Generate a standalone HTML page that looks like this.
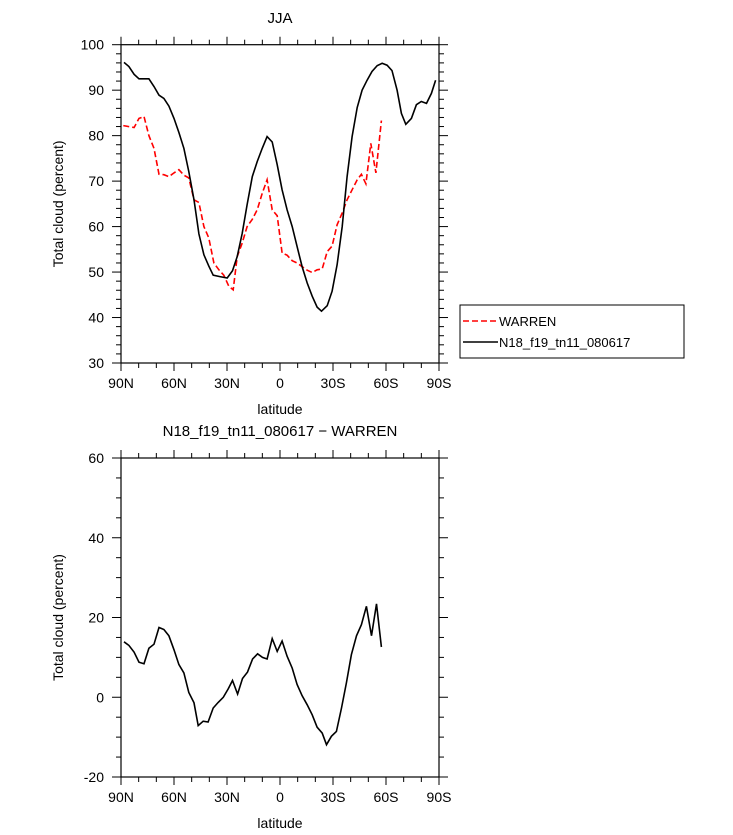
<!DOCTYPE html>
<html><head><meta charset="utf-8">
<style>
html,body{margin:0;padding:0;background:#fff;}
svg{display:block;}
text{font-family:"Liberation Sans",sans-serif;fill:#000;}
</style></head>
<body>
<svg id="chart" width="733" height="835" xmlns="http://www.w3.org/2000/svg">
<text x="280" y="23" font-size="15" text-anchor="middle">JJA</text>
<text x="280" y="436" font-size="15" text-anchor="middle">N18_f19_tn11_080617 − WARREN</text>
<g>
<rect x="460" y="305" width="224" height="53" fill="#fff" stroke="#000" stroke-width="1"/>
<line x1="463" y1="321" x2="498" y2="321" stroke="#f00" stroke-width="1.5" stroke-dasharray="6,3"/>
<text x="499" y="326" font-size="13">WARREN</text>
<line x1="463" y1="342" x2="498" y2="342" stroke="#000" stroke-width="1.5"/>
<text x="499" y="347" font-size="13">N18_f19_tn11_080617</text>
</g>
</svg>
<script>
const xTickVals=[90,60,30,0,-30,-60,-90];
const xTickLabels=["90N","60N","30N","0","30S","60S","90S"];
const topYTicks=[30,40,50,60,70,80,90,100];
const botYTicks=[-20,0,20,40,60];

const modelLat=[88.3,85.5,82.6,79.8,74.2,71.3,68.5,65.7,62.9,60,57.2,54.4,51.6,48.7,45.9,43.1,40.3,37.8,34,29.9,26.9,24.2,21.4,18.6,15.7,12.9,10.1,7.3,4.4,1.6,-1.2,-4,-6.9,-9.7,-12.5,-15.4,-18.2,-21,-23.5,-26.7,-29.5,-32.3,-35.2,-38,-40.8,-43.7,-46.5,-49.3,-52.1,-55,-57.8,-60.6,-63.4,-66.3,-68.7,-71.2,-74.4,-77.2,-80,-82.9,-85.7,-88.1];
const modelVal=[96.1,95.2,93.5,92.5,92.5,90.8,88.9,88.2,86.5,83.8,80.7,77.2,72.1,65.9,58.4,53.8,51.3,49.3,49.0,48.7,50.3,53.4,58.5,64.8,71.0,74.3,77.2,79.8,78.6,73.6,68.1,63.7,60,55.6,51.2,47.6,44.7,42.3,41.4,42.6,45.8,51.6,60,71,79.8,86.2,90,92.2,94.1,95.4,95.9,95.5,94.3,90,84.9,82.5,83.8,86.8,87.5,87.1,89.3,92.2];

const warrenLat=[88.7,85.9,82.6,79.8,77,74.2,71.3,68.5,65.7,62.9,60,57.2,54.4,51.6,48.7,45.9,43.1,40.3,37.4,34.6,31.8,29,26.5,24.2,21.4,18.6,15.7,12.9,10.1,7.3,4.4,1.6,-1.2,-4,-6.9,-9.7,-12.5,-15.4,-18.2,-21,-23.9,-26.7,-29.5,-32.3,-35.2,-38,-40.8,-43.7,-46.1,-48.6,-51.4,-54.3,-57.4];
const warrenVal=[82.2,82,81.8,83.8,84.2,80,77.2,71.5,71.4,71,71.8,72.5,71.3,70.7,65.9,65.3,60,57.5,52,50.5,49.3,46.9,46.1,53.4,56.4,60,61.6,63.7,67.3,70.3,63.7,62.4,54.2,53.7,52.5,52,51.2,50.4,49.9,50.5,50.7,54.5,55.7,60.4,63,65.9,68.1,70.3,71.5,69.4,78.3,71.8,83.3];

const diffLat=[88.3,85.5,82.6,79.8,77,74.2,71.3,68.5,65.7,62.9,60,57.2,54.4,51.6,48.7,46.3,43.5,40.7,37.8,35,32.1,29.3,26.9,24,21.2,18.4,15.5,12.7,9.9,7.3,4.4,1.6,-1.2,-4,-6.9,-9.7,-12.5,-15.4,-18.2,-21,-23.9,-26.3,-29.1,-31.9,-34.8,-37.6,-40.4,-43.3,-46.1,-48.9,-51.8,-54.6,-57.4];
const diffVal=[13.9,13,11.3,8.8,8.4,12.3,13.3,17.5,17,15.4,11.9,8.2,6.1,1.2,-1.4,-7.1,-6,-6.2,-2.7,-1.3,0,2.1,4.2,0.8,4.7,6.3,9.6,10.9,10,9.6,14.7,11.5,14.1,10.3,7.3,3.2,0.4,-1.9,-4.4,-7.5,-9,-11.9,-9.8,-8.6,-2.7,3.6,10.7,15.4,18.2,22.8,15.4,23.4,12.6];

const NS="http://www.w3.org/2000/svg";
const svg=document.getElementById('chart');
function mk(tag,attrs,parent){const e=document.createElementNS(NS,tag);for(const k in attrs)e.setAttribute(k,attrs[k]);(parent||svg).appendChild(e);return e;}

function panel(name,top,bottom,ymin,ymax,yTicks,yMinorStep,series){
  const L=121,R=439;
  const xs=v=>L+(90-v)/180*(R-L);
  const ys=v=>bottom-(v-ymin)/(ymax-ymin)*(bottom-top);
  const g=mk('g',{});
  
  
  for(let v=90;v>=-90;v-=10){
    const x=xs(v),maj=(v%30===0),len=maj?8:5;
    const t1=mk('line',{x1:x,y1:bottom,x2:x,y2:bottom+len,stroke:'#000','stroke-width':1},g);
    
    const t2=mk('line',{x1:x,y1:top,x2:x,y2:top-len,stroke:'#000','stroke-width':1},g);
    
  }
  for(let v=ymin;v<=ymax+1e-6;v+=yMinorStep){
    const y=ys(v),maj=yTicks.some(t=>Math.abs(t-v)<1e-6),len=maj?9:5;
    const t1=mk('line',{x1:L,y1:y,x2:L-len,y2:y,stroke:'#000','stroke-width':1},g);
    
    const t2=mk('line',{x1:R,y1:y,x2:R+len,y2:y,stroke:'#000','stroke-width':1},g);
    
  }
  xTickVals.forEach((v,i)=>{
    const t=mk('text',{x:xs(v),y:bottom+25,'font-size':14,'text-anchor':'middle'},g);
    
    t.textContent=xTickLabels[i];
  });
  yTicks.forEach(v=>{
    const t=mk('text',{x:L-17,y:ys(v)+5,'font-size':14,'text-anchor':'end'},g);
    
    t.textContent=String(v);
  });
  const xt=mk('text',{x:(L+R)/2,y:bottom+51,'font-size':14,'text-anchor':'middle'},g);
  
  xt.textContent='latitude';
  const cy=(top+bottom)/2;
  const yt=mk('text',{x:63,y:cy,'font-size':14,'text-anchor':'middle',transform:'rotate(-90 63 '+cy+')'},g);
  
  yt.textContent='Total cloud (percent)';
  series.forEach(s=>{
    const d=s.lat.map((la,i)=>(i?'L':'M')+xs(la).toFixed(1)+','+ys(s.val[i]).toFixed(1)).join(' ');
    const p=mk('path',{d:d,fill:'none',stroke:s.color,'stroke-width':1.6,'stroke-dasharray':s.dash||'none'},g);
    
  });
  const fr=mk('rect',{x:L,y:top,width:R-L,height:bottom-top,fill:'none',stroke:'#000','stroke-width':1.2},g);
  
}
panel('top',44.7,363,30,100,topYTicks,2,[
  {name:'warren-line',lat:warrenLat,val:warrenVal,color:'#f00',dash:'6,3'},
  {name:'model-line',lat:modelLat,val:modelVal,color:'#000'}
]);
panel('bottom',458,777,-20,60,botYTicks,5,[
  {name:'difference-line',lat:diffLat,val:diffVal,color:'#000'}
]);
</script>
</body></html>
